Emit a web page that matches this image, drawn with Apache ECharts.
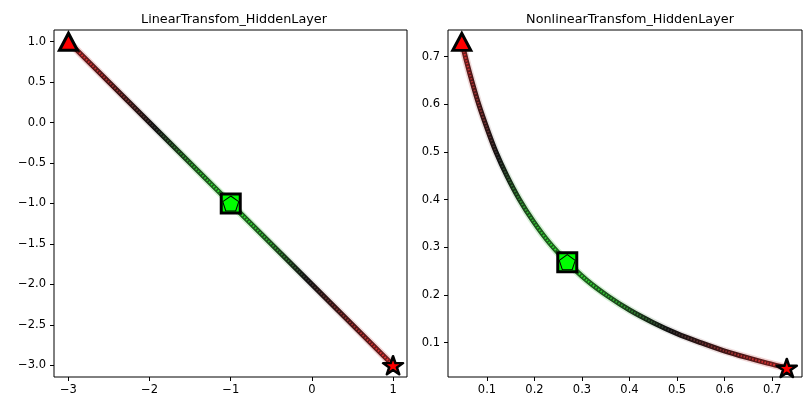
<!DOCTYPE html>
<html>
<head>
<meta charset="utf-8">
<script src="https://cdn.jsdelivr.net/npm/echarts@6/dist/echarts.min.js"></script>
<style>
  html, body { margin: 0; padding: 0; background: #fff; }
  #chart { width: 811px; height: 411px; }
</style>
</head>
<body>
<div id="chart"></div>
<script>
// values
const titles = ['LinearTransfom_HiddenLayer', 'NonlinearTransfom_HiddenLayer']

const linX = [-3, -2, -1, 0, 1]
const linY = [1, 0, -1, -2, -3]
const linStart = [-3, 1]
const linMid = [-1, -1]
const linEnd = [1, -3]

const nlX = [0.047, 0.057, 0.069, 0.083, 0.100, 0.119, 0.142, 0.168, 0.198, 0.231, 0.269,
  0.310, 0.354, 0.401, 0.450, 0.500, 0.550, 0.599, 0.646, 0.690, 0.731]
const nlY = [0.731, 0.690, 0.646, 0.599, 0.550, 0.500, 0.450, 0.401, 0.354, 0.310, 0.269,
  0.231, 0.198, 0.168, 0.142, 0.119, 0.100, 0.083, 0.069, 0.057, 0.047]
const nlStart = [0.047, 0.731]
const nlMid = [0.269, 0.269]
const nlEnd = [0.731, 0.047]

const leftXTicks = [-3, -2, -1, 0, 1]
const leftYTicks = [1, 0.5, 0, -0.5, -1, -1.5, -2, -2.5, -3]
const rightTicks = [0.1, 0.2, 0.3, 0.4, 0.5, 0.6, 0.7]

const chart = echarts.init(document.getElementById('chart'))

const FONT = 'DejaVu Sans'
const minus = (s) => s.replace('-', '\u2212')

const STAR = 'path://M0,-100 L22.45,-30.9 L95.1,-30.9 L36.3,11.8 L58.8,80.9 L0,38.2 L-58.8,80.9 L-36.3,11.8 L-95.1,-30.9 L-22.45,-30.9 Z'
const PENTA = 'path://M0,-100 L95.1,-30.9 L58.8,80.9 L-58.8,80.9 L-95.1,-30.9 Z'

// colour stops along the chain (fraction of horizontal extent)
function grad(stops, palette) {
  return new echarts.graphic.LinearGradient(0, 0, 1, 0,
    stops.map((o, i) => ({ offset: o, color: palette[i] })))
}
const linStops = [0, 0.12, 0.27, 0.38, 0.5, 0.62, 0.73, 0.88, 1]
const nlStops = [0, 0.04, 0.118, 0.202, 0.325, 0.477, 0.633, 0.848, 1]
const haloPal = ['#e08080', '#d8a0a0', '#c0c0c0', '#9ad89a', '#80e080', '#9ad89a', '#c0c0c0', '#d8a0a0', '#e08080']
const corePal = ['#7a2020', '#4a1515', '#111111', '#1c4a1c', '#1f6b1f', '#1c4a1c', '#111111', '#4a1515', '#7a2020']
const dotPal = ['#ff3030', '#b03030', '#333333', '#30b030', '#30ff30', '#30b030', '#333333', '#b03030', '#ff3030']

function chainSeries(idx, xs, ys, stops, smooth) {
  const data = xs.map((x, i) => [x, ys[i]])
  const base = {
    type: 'line', xAxisIndex: idx, yAxisIndex: idx, data: data,
    showSymbol: false, symbol: 'none', smooth: smooth, silent: true, animation: false
  }
  return [
    Object.assign({}, base, { lineStyle: { width: 8, opacity: 0.4, color: grad(stops, haloPal) } }),
    Object.assign({}, base, { lineStyle: { width: 5, color: grad(stops, corePal) } }),
    Object.assign({}, base, { lineStyle: { width: 2, type: [1.5, 1.6], color: grad(stops, dotPal) } })
  ]
}

function markerSeries(idx, start, mid, end) {
  const common = { type: 'scatter', xAxisIndex: idx, yAxisIndex: idx, silent: true, animation: false, z: 5 }
  return [
    Object.assign({}, common, {
      data: [start], symbol: 'triangle', symbolSize: [18, 17],
      itemStyle: { color: '#ff0000', borderColor: '#000', borderWidth: 3, borderJoin: 'miter', opacity: 1 }
    }),
    Object.assign({}, common, {
      data: [mid], symbol: 'rect', symbolSize: 19,
      itemStyle: { color: '#00ff00', borderColor: '#000', borderWidth: 3, opacity: 1 }
    }),
    Object.assign({}, common, {
      data: [mid], symbol: PENTA, symbolSize: [16, 15], z: 6,
      itemStyle: { color: '#00ff00', borderColor: '#000', borderWidth: 1, opacity: 1 }
    }),
    Object.assign({}, common, {
      data: [end], symbol: STAR, symbolSize: [20, 19], symbolKeepAspect: true,
      itemStyle: { color: '#ff0000', borderColor: '#000', borderWidth: 2.5, borderJoin: 'round', opacity: 1 }
    })
  ]
}

function axis(min, max, ticks, fmt, margin) {
  return {
    type: 'value', min: min, max: max,
    axisLine: { show: false, onZero: false },
    splitLine: { show: false },
    axisTick: { show: true, inside: false, length: 4, customValues: ticks, lineStyle: { color: '#000', width: 1 } },
    axisLabel: { customValues: ticks, formatter: fmt, margin: margin, color: '#000', fontFamily: FONT, fontSize: 11.5 }
  }
}

const grids = [
  { left: 54, top: 30, width: 353, height: 347, show: true, borderColor: '#000', borderWidth: 1 },
  { left: 448, top: 30, width: 354, height: 347, show: true, borderColor: '#000', borderWidth: 1 }
]

const option = {
  backgroundColor: '#fff',
  title: titles.map((t, i) => ({
    text: t,
    left: i === 0 ? 229 : 625, top: 8, textAlign: 'center',
    textStyle: { fontFamily: FONT, fontSize: 12.8, fontWeight: 'normal', color: '#000' }
  })),
  grid: grids,
  xAxis: [
    Object.assign(axis(-3.178, 1.172, leftXTicks, (v) => minus(String(v)), 7), { gridIndex: 0 }),
    Object.assign(axis(0.018, 0.763, rightTicks, (v) => v.toFixed(1), 7), { gridIndex: 1 })
  ],
  yAxis: [
    Object.assign(axis(-3.145, 1.145, leftYTicks, (v) => minus(v.toFixed(1)), 8), { gridIndex: 0 }),
    Object.assign(axis(0.028, 0.756, rightTicks, (v) => v.toFixed(1), 8), { gridIndex: 1 })
  ],
  series: [
    ...chainSeries(0, linX, linY, linStops, false),
    ...chainSeries(1, nlX, nlY, nlStops, 0.3),
    ...markerSeries(0, linStart, linMid, linEnd),
    ...markerSeries(1, nlStart, nlMid, nlEnd)
  ]
}

chart.setOption(option)
</script>
</body>
</html>
